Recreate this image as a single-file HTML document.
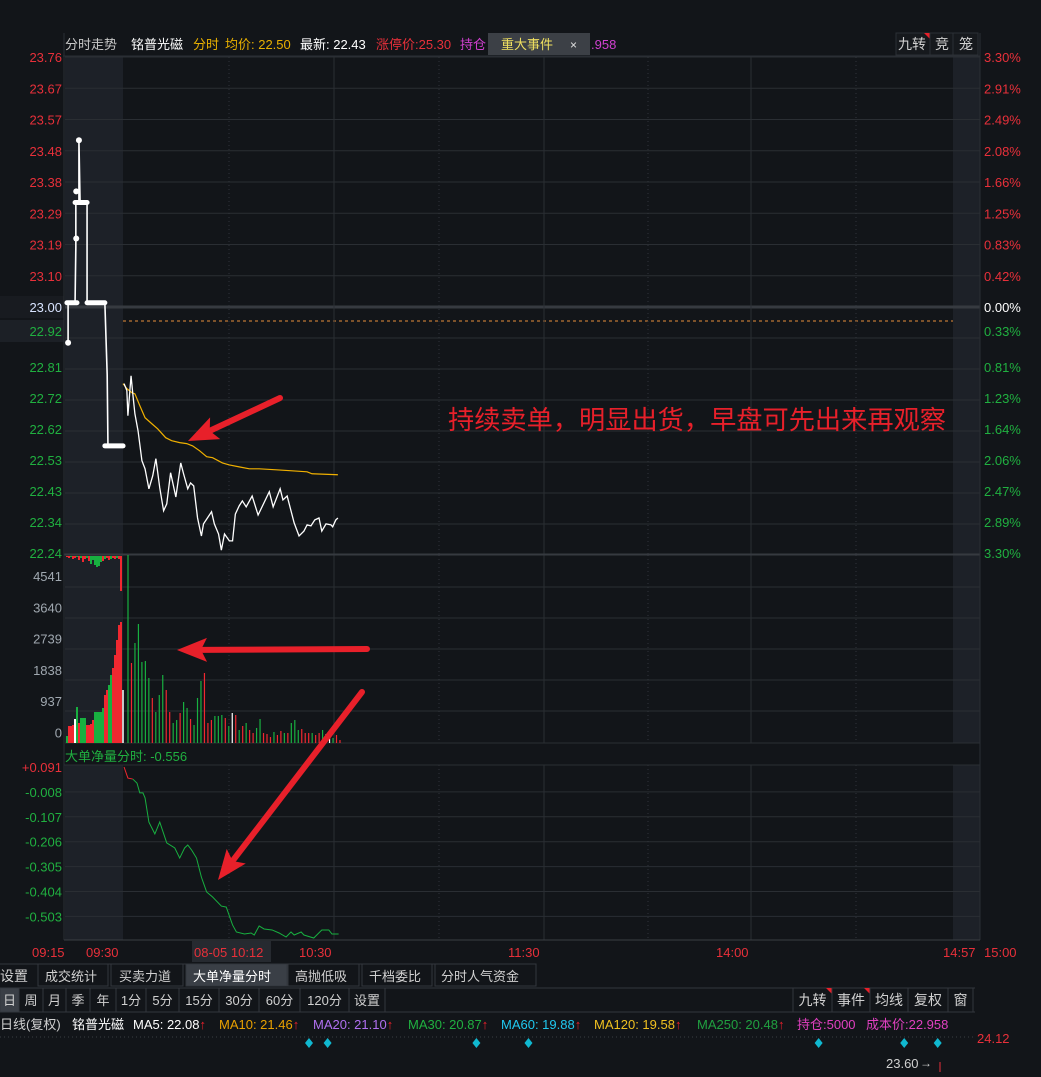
<!DOCTYPE html>
<html><head><meta charset="utf-8">
<style>
html,body{margin:0;padding:0;background:#121519;}
body{width:1041px;height:1072px;overflow:hidden;position:relative;font-family:"Liberation Sans","Noto Sans CJK SC",sans-serif;}
svg text{font-family:"Liberation Sans","Noto Sans CJK SC",sans-serif;}
</style></head>
<body>
<svg id="chart" width="1041" height="1072" viewBox="0 0 1041 1072" xmlns="http://www.w3.org/2000/svg">
<rect x="0" y="0" width="1041" height="1072" fill="#121519"/>
<rect x="65" y="57" width="58" height="498" fill="#1d2128"/>
<rect x="65" y="555" width="58" height="188" fill="#1d2128"/>
<rect x="65" y="765" width="58" height="175" fill="#1d2128"/>
<rect x="953" y="57" width="27" height="498" fill="#1d2128"/>
<rect x="953" y="555" width="27" height="188" fill="#1d2128"/>
<rect x="953" y="765" width="27" height="175" fill="#1d2128"/>
<g id="grid"></g>
<g id="marks"></g>
<g id="labels"></g>

<line x1="63" y1="56" x2="980" y2="56" stroke="#2b2f35"/>
<line x1="64" y1="33" x2="64" y2="940" stroke="#2b2f35"/>
<line x1="980" y1="33" x2="980" y2="940" stroke="#2b2f35"/>
<text x="65" y="49" font-size="13" fill="#c8c8c8">分时走势</text>
<text x="131" y="49" font-size="13" fill="#ffffff">铭普光磁</text>
<text x="193" y="49" font-size="13" fill="#e8b000">分时</text>
<text x="225" y="49" font-size="13" fill="#e8b000">均价: 22.50</text>
<text x="300" y="49" font-size="13" fill="#ffffff">最新: 22.43</text>
<text x="376" y="49" font-size="13" fill="#e8303a">涨停价:25.30</text>
<text x="460" y="49" font-size="13" fill="#d040d0">持仓</text>
<rect x="488" y="33" width="102" height="22" fill="#3c4046"/>
<text x="501" y="49" font-size="13" fill="#f0e060">重大事件</text>
<text x="570" y="49" font-size="12" fill="#e0e0e0">×</text>
<text x="591" y="49" font-size="13" fill="#d040d0">.958</text>
<rect x="896" y="33" width="34" height="22" fill="#16191d" stroke="#2b2f35"/>
<text x="898" y="49" font-size="14" fill="#d0d0d0">九转</text>
<polygon points="924,33 930,33 930,39" fill="#e8202a"/>
<rect x="930" y="33" width="23" height="22" fill="#16191d" stroke="#2b2f35"/>
<text x="935" y="49" font-size="14" fill="#d0d0d0">竞</text>
<rect x="953" y="33" width="25" height="22" fill="#16191d" stroke="#2b2f35"/>
<text x="959" y="49" font-size="14" fill="#d0d0d0">笼</text>

<text x="448" y="429" font-size="26" textLength="498" lengthAdjust="spacingAndGlyphs" fill="#e8202a">持续卖单，明显出货，早盘可先出来再观察</text>
<text x="65" y="761" font-size="13" fill="#20b040">大单净量分时: -0.556</text>

<line x1="64" y1="940" x2="980" y2="940" stroke="#3a3e44"/>
<rect x="192" y="941" width="79" height="21" fill="#262a30"/>
<text x="32" y="957" font-size="13" fill="#e8303a">09:15</text>
<text x="86" y="957" font-size="13" fill="#e8303a">09:30</text>
<text x="194" y="957" font-size="13" fill="#e8303a">08-05 10:12</text>
<text x="299" y="957" font-size="13" fill="#e8303a">10:30</text>
<text x="508" y="957" font-size="13" fill="#e8303a">11:30</text>
<text x="716" y="957" font-size="13" fill="#e8303a">14:00</text>
<text x="943" y="957" font-size="13" fill="#e8303a">14:57</text>
<text x="984" y="957" font-size="13" fill="#e8303a">15:00</text>

<g font-size="13" fill="#d0d0d0">
<line x1="0" y1="964" x2="536" y2="964" stroke="#33373d"/>
<text x="0" y="981" font-size="14">设置</text>
<rect x="38" y="964" width="70" height="22" fill="none" stroke="#33373d"/>
<text x="45" y="981">成交统计</text>
<rect x="111" y="964" width="72" height="22" fill="none" stroke="#33373d"/>
<text x="119" y="981">买卖力道</text>
<rect x="186" y="964" width="101" height="22" fill="#3a3f46" stroke="#33373d"/>
<text x="193" y="981" fill="#ffffff">大单净量分时</text>
<rect x="288" y="964" width="71" height="22" fill="none" stroke="#33373d"/>
<text x="295" y="981">高抛低吸</text>
<rect x="362" y="964" width="70" height="22" fill="none" stroke="#33373d"/>
<text x="369" y="981">千档委比</text>
<rect x="435" y="964" width="101" height="22" fill="none" stroke="#33373d"/>
<text x="441" y="981">分时人气资金</text>
</g>
<line x1="0" y1="988" x2="975" y2="988" stroke="#33373d"/>
<line x1="385" y1="1012" x2="975" y2="1012" stroke="#33373d"/>
<g id="periods"></g>

<g font-size="13">
<text x="0" y="1029" fill="#d0d0d0">日线(复权)</text>
<text x="72" y="1029" fill="#ffffff">铭普光磁</text>
<text x="133" y="1029" fill="#ffffff">MA5: 22.08<tspan fill="#e8202a">↑</tspan></text>
<text x="219" y="1029" fill="#e8a000">MA10: 21.46<tspan fill="#e8202a">↑</tspan></text>
<text x="313" y="1029" fill="#b070f0">MA20: 21.10<tspan fill="#e8202a">↑</tspan></text>
<text x="408" y="1029" fill="#20b040">MA30: 20.87<tspan fill="#e8202a">↑</tspan></text>
<text x="501" y="1029" fill="#20c8f0">MA60: 19.88<tspan fill="#e8202a">↑</tspan></text>
<text x="594" y="1029" fill="#f0c020">MA120: 19.58<tspan fill="#e8202a">↑</tspan></text>
<text x="697" y="1029" fill="#20a040">MA250: 20.48<tspan fill="#e8202a">↑</tspan></text>
<text x="797" y="1029" fill="#e040c0">持仓:5000</text>
<text x="866" y="1029" fill="#e040c0">成本价:22.958</text>
</g>
<line x1="0" y1="1037" x2="975" y2="1037" stroke="#3a3e44" stroke-dasharray="1,3"/>
<text x="977" y="1043" font-size="13" fill="#e8303a">24.12</text>
<text x="886" y="1068" font-size="13" fill="#d0d0d0">23.60</text>
<text x="920" y="1067" font-size="12" fill="#d0d0d0">→</text>
<line x1="940" y1="1062" x2="940" y2="1072" stroke="#e8303a"/>
<g id="diamonds"></g>
<g id="arrows"></g>
</svg>
<script>
const leftTopTicks = ["23.76","23.67","23.57","23.48","23.38","23.29","23.19","23.10","23.00"];
const leftBottomTicks = ["22.92","22.81","22.72","22.62","22.53","22.43","22.34","22.24"];
const rightTopTicks = ["3.30%","2.91%","2.49%","2.08%","1.66%","1.25%","0.83%","0.42%","0.00%"];
const rightBottomTicks = ["0.33%","0.81%","1.23%","1.64%","2.06%","2.47%","2.89%","3.30%"];
const volTicks = ["4541","3640","2739","1838","937","0"];
const flowTicks = ["+0.091","-0.008","-0.107","-0.206","-0.305","-0.404","-0.503"];

const priceMin = [0.3,1.1,1.4,2.3,2.8,3.4,4.3,5.4,6.3,7.4,8.5,9.4,10.5,11.6,12.5,13.6,15.1,16.5,17.3,18.5,19.3,20.2,21.3,22.4,23,25.3,26.1,27.3,28.1,29,30.4,31.3,32.1,33.2,34.1,35.2,36.9,38.6,41.8,42.9,44.9,45.7,46.9,48.9,50.3,51.7,52.6,53.7,54.8,56,56.8,58,59.4,59.9,60.8,61.4];
const priceVal = [22.763,22.742,22.665,22.787,22.732,22.671,22.619,22.528,22.503,22.442,22.482,22.534,22.445,22.375,22.396,22.491,22.417,22.521,22.488,22.442,22.46,22.451,22.353,22.298,22.335,22.372,22.335,22.304,22.255,22.304,22.283,22.283,22.365,22.39,22.405,22.387,22.42,22.362,22.433,22.387,22.442,22.408,22.42,22.338,22.298,22.313,22.332,22.329,22.347,22.353,22.313,22.335,22.332,22.326,22.347,22.353];
const avgMin = [0,1.1,2.6,3.4,4.8,6.3,8.2,9.9,12.2,13.9,16.2,18.2,19.9,21.9,23.9,25.6,28.4,30.4,33.2,36.1,38.9,43.8,48.3,52.6,54.0,61.4];
const avgVal = [22.763,22.748,22.735,22.732,22.696,22.659,22.641,22.625,22.598,22.589,22.583,22.58,22.573,22.558,22.54,22.537,22.521,22.515,22.509,22.503,22.503,22.5,22.497,22.494,22.488,22.485];

const preMin = [0.8,0.8,2.6,2.8,2.8,3.6,3.6,3.9,5.7,5.7,10.3,10.9,11.1,15];
const preVal = [22.888,23.01,23.01,23.18,23.316,23.316,23.506,23.316,23.316,23.01,23.01,22.79,22.573,22.573];
const preBlockStart = [0.5,2.6,5.7,10.3];
const preBlockEnd = [3.1,5.7,10.3,15];
const preBlockVal = [23.01,23.316,23.01,22.573];
const preDotMin = [0.8,3.6,2.9,2.9];
const preDotVal = [22.888,23.506,23.206,23.35];

const preVol = [202,491,491,520,694,1040,578,723,723,723,520,520,549,665,896,896,896,896,1012,1387,1532,1676,1965,2168,2543,2977,3410,3497];
const preVolColor = ["g","r","r","r","w","g","r","g","g","g","r","r","r","r","g","g","g","g","g","r","r","g","g","r","r","r","r","r"];
const auctionImb = [1,2,1,3,2,1,4,2,6,3,2,5,8,4,9,11,10,6,5,3,2,4,3,2,3,2,3,35];
const auctionColor = ["r","r","g","r","r","g","r","g","r","r","g","r","g","g","g","g","g","g","r","g","r","r","g","r","r","g","r","r"];

const vol = [5433,2312,2890,3439,2341,2370,1879,1301,896,1387,1965,1532,896,578,665,867,1185,1012,694,520,1301,1792,2023,578,665,780,780,809,723,491,867,809,376,491,578,376,289,434,694,289,260,173,318,231,347,289,289,578,665,376,405,289,289,289,231,289,376,260,173,145,231,87];
const volColor = ["g","r","g","g","g","g","g","r","g","g","g","r","r","g","g","r","g","g","r","g","g","g","r","r","r","g","g","g","r","g","w","r","g","r","g","r","r","g","g","r","r","r","g","r","r","g","r","g","g","g","r","r","r","g","r","r","g","w","w","g","r","r"];
const openVol = 1532;

const flowMin = [0.3,1.4,2.8,4,4.8,5.7,6.3,7.4,9.1,10.5,12.5,14.8,16.2,17.6,18.5,19.6,21,22.4,23.9,25.6,28.1,29.5,31.3,32.4,34.7,36.6,37.5,38.9,40.3,42.6,44.6,46.6,48,48.9,50.9,51.7,54.5,56.8,58.8,59.7,61.6];
const flowVal = [0.091,0.047,0.043,0.027,-0.012,-0.012,-0.032,-0.128,-0.175,-0.128,-0.211,-0.231,-0.271,-0.231,-0.219,-0.239,-0.271,-0.347,-0.406,-0.426,-0.462,-0.466,-0.537,-0.565,-0.573,-0.569,-0.577,-0.541,-0.553,-0.557,-0.569,-0.585,-0.565,-0.577,-0.565,-0.577,-0.589,-0.557,-0.557,-0.573,-0.573];

const periods = ["日","周","月","季","年","1分","5分","15分","30分","60分","120分","设置"];
const rightButtons = ["九转","事件","均线","复权","窗"];
const eventDays = [0,1,9,11.8,27.4,32,33.8];

const NS = "http://www.w3.org/2000/svg";
const xT = m => 123 + m * 3.5;
const xPre = m => 65 + m * 3.87;
const yP = p => 306 + (23 - p) * (249 / 0.76);
const yV = v => 743 - v / 28.9;
const yN = v => 767 + (0.091 - v) * 251.5;
const xDay = d => 309 + d * 18.6;
const COL = {r:"#f02830", g:"#18b040", w:"#ffffff"};

function mk(tag, attrs, parent) {
  const e = document.createElementNS(NS, tag);
  for (const k in attrs) e.setAttribute(k, attrs[k]);
  parent.appendChild(e);
  return e;
}
const grid = document.getElementById("grid");
const marks = document.getElementById("marks");
const labels = document.getElementById("labels");

for (let k = 1; k <= 8; k++) {
  const y = 307 - k * 31.25;
  const ln = mk("line", {x1:65, x2:980, y1:y, y2:y, stroke:"#2a2e33"}, grid);
  
  
}
for (let k = 0; k <= 7; k++) {
  const y = 555 - k * 31;
  const ln = mk("line", {x1:65, x2:980, y1:y, y2:y, stroke:"#2a2e33"}, grid);
  
  
}
const zl = mk("line", {x1:65, x2:980, y1:307, y2:307, stroke:"#363a40", "stroke-width":3}, grid);


const dl = mk("line", {x1:123, x2:953, y1:321, y2:321, stroke:"#e8903a", "stroke-dasharray":"3,3", "stroke-width":1}, grid);


for (let k = 1; k <= 5; k++) {
  const y = 587 + (k - 1) * 31;
  const ln = mk("line", {x1:65, x2:980, y1:y, y2:y, stroke:"#2a2e33"}, grid);
  
  
}
const vb = mk("line", {x1:65, x2:980, y1:743, y2:743, stroke:"#2a2e33"}, grid);


for (let k = 1; k < flowTicks.length; k++) {
  const y = 767 + k * 24.9;
  const ln = mk("line", {x1:65, x2:980, y1:y, y2:y, stroke:"#2a2e33"}, grid);
  
  
}
const vX = [229,334,439,544,648,751,856];
vX.forEach((x, i) => {
  const dotted = i % 2 === 0;
  [[57,555],[555,743],[765,940]].forEach(r => {
    const ln = mk("line", {x1:x, x2:x, y1:r[0], y2:r[1], stroke: dotted ? "#30343a" : "#2a2e33", "stroke-dasharray": dotted ? "1,3" : "none"}, grid);
    
    
  });
});
const sep = mk("line", {x1:64, x2:980, y1:554.5, y2:554.5, stroke:"#363a40", "stroke-width":2}, grid);


const sep2 = mk("line", {x1:64, x2:980, y1:765, y2:765, stroke:"#2a2e33"}, grid);



function lab(x, y, s, fill, anchor, name) {
  const t = mk("text", {x:x, y:y, "font-size":13, fill:fill, "text-anchor":anchor}, labels);
  t.textContent = s;
  
  
  return t;
}
const bx = mk("rect", {x:0, y:296, width:64, height:22, fill:"#181b20"}, labels);


const bx2 = mk("rect", {x:0, y:320, width:64, height:22, fill:"#1c2026"}, labels);


leftTopTicks.forEach((s, k) => {
  const y = 57 + k * 31.25 + 5;
  lab(62, y, s, k === 8 ? "#d8e4ff" : "#e8303a", "end", "price-tick-label");
});
leftBottomTicks.forEach((s, k) => {
  const y = (k === 0 ? 331 : 338 + k * 31 - 2) + 5;
  lab(62, y, s, "#20b040", "end", "price-tick-label");
});
rightTopTicks.forEach((s, k) => {
  const y = 57 + k * 31.25 + 5;
  lab(984, y, s, k === 8 ? "#ffffff" : "#e8303a", "start", "percent-tick-label");
});
rightBottomTicks.forEach((s, k) => {
  const y = (k === 0 ? 331 : 338 + k * 31 - 2) + 5;
  lab(984, y, s, "#20b040", "start", "percent-tick-label");
});
volTicks.forEach((s, k) => {
  lab(62, 581 + k * 31.3, s, "#a0a8b0", "end", "volume-tick-label");
});
flowTicks.forEach((s, k) => {
  lab(62, 772 + k * 24.9, s, k === 0 ? "#e8303a" : "#20b040", "end", "flow-tick-label");
});

preVol.forEach((v, i) => {
  const x = 67 + i * 2;
  const r = mk("rect", {x:x - 1, y:yV(v), width:2, height:743 - yV(v), fill:COL[preVolColor[i]]}, marks);
  
  
});
auctionImb.forEach((v, i) => {
  const x = 67 + i * 2;
  const r = mk("rect", {x:x - 1, y:556, width:2, height:v, fill:COL[auctionColor[i]]}, marks);
  
  
});
const ob = mk("line", {x1:123, x2:123, y1:yV(openVol), y2:743, stroke:"#ffffff", "stroke-width":1.5}, marks);


vol.forEach((v, i) => {
  const x = 128 + i * 3.475;
  const l = mk("line", {x1:x, x2:x, y1:yV(v), y2:743, stroke:COL[volColor[i]], "stroke-width":1.2}, marks);
  
  
});

const pre = mk("polyline", {points: preMin.map((m, i) => xPre(m) + "," + yP(preVal[i])).join(" "), fill:"none", stroke:"#ffffff", "stroke-width":1.6}, marks);


preBlockStart.forEach((s, i) => {
  const l = mk("line", {x1:xPre(s), x2:xPre(preBlockEnd[i]), y1:yP(preBlockVal[i]), y2:yP(preBlockVal[i]), stroke:"#ffffff", "stroke-width":5, "stroke-linecap":"round"}, marks);
  
  
});
preDotMin.forEach((m, i) => {
  const c = mk("circle", {cx:xPre(m), cy:yP(preDotVal[i]), r:3, fill:"#ffffff"}, marks);
  
  
});

const avg = mk("polyline", {points: avgMin.map((m, i) => xT(m) + "," + yP(avgVal[i])).join(" "), fill:"none", stroke:"#f0b000", "stroke-width":1.2}, marks);


const pl = mk("polyline", {points: priceMin.map((m, i) => xT(m) + "," + yP(priceVal[i])).join(" "), fill:"none", stroke:"#ffffff", "stroke-width":1.3}, marks);



const fr = mk("polyline", {points: flowMin.slice(0, 3).map((m, i) => xT(m) + "," + yN(flowVal[i])).join(" "), fill:"none", stroke:"#f02830", "stroke-width":1}, marks);


const fg = mk("polyline", {points: flowMin.slice(2).map((m, i) => xT(m) + "," + yN(flowVal[i + 2])).join(" "), fill:"none", stroke:"#18b040", "stroke-width":1}, marks);



const pg = document.getElementById("periods");
const pEdges = [0,19,43,66,90,116,146,179,219,259,300,349,385];
periods.forEach((s, i) => {
  const x0 = pEdges[i], x1 = pEdges[i + 1];
  const r = mk("rect", {x:x0, y:988, width:x1 - x0, height:24, fill: i === 0 ? "#3a3f46" : "none", stroke:"#33373d"}, pg);
  
  
  const t = mk("text", {x:(x0 + x1) / 2, y:1005, "font-size":13, fill:"#d0d0d0", "text-anchor":"middle"}, pg);
  t.textContent = s;
  
  
});
const rEdges = [793,832,870,908,948,973];
rightButtons.forEach((s, i) => {
  const x0 = rEdges[i], x1 = rEdges[i + 1];
  const r = mk("rect", {x:x0, y:988, width:x1 - x0, height:24, fill:"none", stroke:"#33373d"}, pg);
  
  
  const t = mk("text", {x:(x0 + x1) / 2, y:1005, "font-size":14, fill:"#d0d0d0", "text-anchor":"middle"}, pg);
  t.textContent = s;
  
  
  if (i < 2) {
    const f = mk("polygon", {points:(x1 - 6) + ",988 " + x1 + ",988 " + x1 + ",994", fill:"#e8202a"}, pg);
    
    
  }
});

const dg = document.getElementById("diamonds");
eventDays.forEach(d => {
  const x = xDay(d), y = 1043;
  const p = mk("polygon", {points: x + "," + (y - 5) + " " + (x + 4) + "," + y + " " + x + "," + (y + 5) + " " + (x - 4) + "," + y, fill:"#10b8d0"}, dg);
  
  
});

const ag = document.getElementById("arrows");
function arrow(x0, y0, x1, y1) {
  const dx = x1 - x0, dy = y1 - y0, L = Math.hypot(dx, dy);
  const ux = dx / L, uy = dy / L, hl = 30, hw = 12;
  const bx = x1 - ux * hl, by = y1 - uy * hl;
  const l = mk("line", {x1:x0, y1:y0, x2:bx + ux * 4, y2:by + uy * 4, stroke:"#e8202a", "stroke-width":6, "stroke-linecap":"round"}, ag);
  
  
  const h = mk("polygon", {points: x1 + "," + y1 + " " + (bx - uy * hw) + "," + (by + ux * hw) + " " + (bx + ux * 6) + "," + (by + uy * 6) + " " + (bx + uy * hw) + "," + (by - ux * hw), fill:"#e8202a"}, ag);
  
  
}
arrow(280, 398, 188, 441);
arrow(367, 649, 177, 650);
arrow(362, 692, 218, 880);
</script>
</body></html>
